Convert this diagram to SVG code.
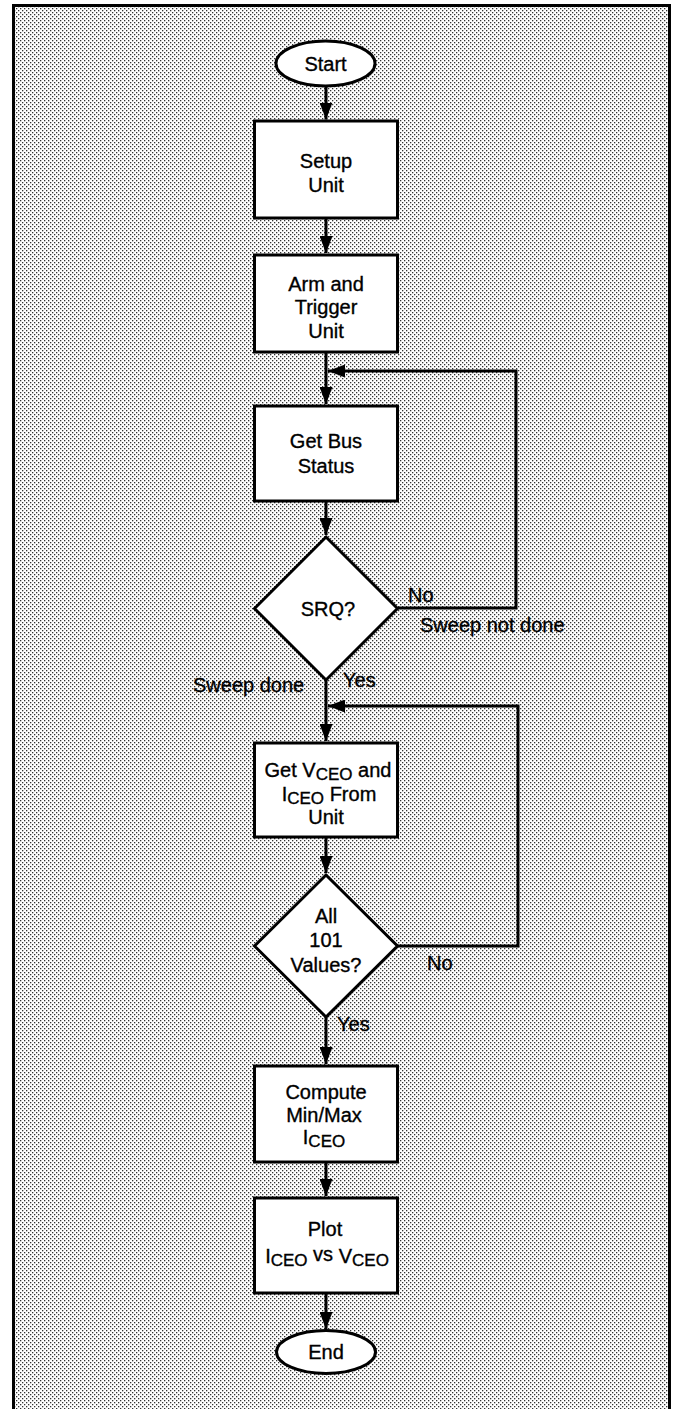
<svg xmlns="http://www.w3.org/2000/svg" width="674" height="1409" viewBox="0 0 674 1409">
<defs>
<pattern id="dots" x="0" y="0" width="4" height="4" patternUnits="userSpaceOnUse">
<rect x="0" y="0" width="4" height="4" fill="#ffffff"/>
<rect x="0" y="0" width="1.3" height="1.3" fill="#333333"/>
<rect x="2" y="2" width="1.3" height="1.3" fill="#333333"/>
</pattern>
<marker id="ah" markerUnits="userSpaceOnUse" markerWidth="17" markerHeight="13" refX="17" refY="6.5" orient="auto" viewBox="0 0 17 13">
<path d="M0,0 L17,6.5 L0,13 Z" fill="#000"/>
</marker>
</defs>
<style>
.shape{fill:#ffffff;stroke:#000000;stroke-width:3}
.conn{fill:none;stroke:#000000;stroke-width:3}
.t{font-family:"Liberation Sans",Arial,Helvetica,sans-serif;font-size:20px;fill:#000000;stroke:#000000;stroke-width:0.35}
.c{text-anchor:middle}
.sub{font-size:17px}
</style>
<rect x="0" y="0" width="674" height="1409" fill="#ffffff"/>
<rect x="15" y="7" width="653" height="1402" fill="url(#dots)"/>
<path d="M13.5,1409 V5.5 H669.5 V1409" fill="none" stroke="#000" stroke-width="3"/>

<g id="connectors">
<line class="conn" x1="326" y1="86" x2="326" y2="119.5" marker-end="url(#ah)"/>
<line class="conn" x1="326" y1="218" x2="326" y2="253" marker-end="url(#ah)"/>
<line class="conn" x1="326" y1="353" x2="326" y2="404" marker-end="url(#ah)"/>
<line class="conn" x1="326" y1="502" x2="326" y2="535" marker-end="url(#ah)"/>
<line class="conn" x1="326" y1="680" x2="326" y2="741" marker-end="url(#ah)"/>
<line class="conn" x1="326" y1="838" x2="326" y2="873" marker-end="url(#ah)"/>
<line class="conn" x1="326" y1="1017" x2="326" y2="1064" marker-end="url(#ah)"/>
<line class="conn" x1="326" y1="1163" x2="326" y2="1196" marker-end="url(#ah)"/>
<line class="conn" x1="326" y1="1294" x2="326" y2="1329" marker-end="url(#ah)"/>
<path class="conn" d="M398,608 H516 V371 H328" marker-end="url(#ah)"/>
<path class="conn" d="M397,946 H518 V706 H328" marker-end="url(#ah)"/>
<text class="t" x="408" y="602">No</text>
<text class="t" x="420" y="632">Sweep not done</text>
<text class="t" x="193" y="692">Sweep done</text>
<text class="t" x="343" y="687">Yes</text>
<text class="t" x="427" y="970">No</text>
<text class="t" x="337" y="1031">Yes</text>
</g>

<g id="start">
<ellipse class="shape" cx="325.5" cy="63.5" rx="49.5" ry="22.5"/>
<text class="t c" x="325.5" y="71">Start</text>
</g>

<g id="setup">
<rect class="shape" x="254.5" y="121" width="143" height="97"/>
<text class="t c" x="326" y="168">Setup</text>
<text class="t c" x="326" y="192">Unit</text>
</g>

<g id="arm">
<rect class="shape" x="254.5" y="255" width="143" height="97"/>
<text class="t c" x="326" y="291">Arm and</text>
<text class="t c" x="326" y="314">Trigger</text>
<text class="t c" x="326" y="338">Unit</text>
</g>

<g id="getbus">
<rect class="shape" x="254.5" y="406" width="143" height="95"/>
<text class="t c" x="326" y="448">Get Bus</text>
<text class="t c" x="326" y="473">Status</text>
</g>

<g id="srq">
<polygon class="shape" points="326,537 397.5,608.5 326,680 254.5,608.5"/>
<text class="t c" x="328" y="616">SRQ?</text>
</g>

<g id="getv">
<rect class="shape" x="254.5" y="743" width="143" height="94"/>
<text class="t c" x="328" y="777">Get V<tspan class="sub" dy="3">CEO</tspan><tspan dy="-3"> and</tspan></text>
<text class="t c" x="329" y="801">I<tspan class="sub" dy="3">CEO</tspan><tspan dy="-3"> From</tspan></text>
<text class="t c" x="326" y="824">Unit</text>
</g>

<g id="all101">
<polygon class="shape" points="326,875 397.5,946 326,1017 254.5,946"/>
<text class="t c" x="326" y="923">All</text>
<text class="t c" x="326" y="947">101</text>
<text class="t c" x="326" y="972">Values?</text>
</g>

<g id="compute">
<rect class="shape" x="254.5" y="1066" width="143" height="96"/>
<text class="t c" x="326" y="1099">Compute</text>
<text class="t c" x="324" y="1122">Min/Max</text>
<text class="t c" x="324" y="1144">I<tspan class="sub" dy="3">CEO</tspan></text>
</g>

<g id="plot">
<rect class="shape" x="254.5" y="1198" width="143" height="95"/>
<text class="t c" x="325" y="1236">Plot</text>
<text class="t c" x="327" y="1263">I<tspan class="sub" dy="3">CEO</tspan><tspan dy="-5"> vs </tspan><tspan dy="2">V</tspan><tspan class="sub" dy="3">CEO</tspan></text>
</g>

<g id="end">
<ellipse class="shape" cx="326" cy="1352" rx="49.5" ry="21.5"/>
<text class="t c" x="326" y="1359">End</text>
</g>
</svg>
